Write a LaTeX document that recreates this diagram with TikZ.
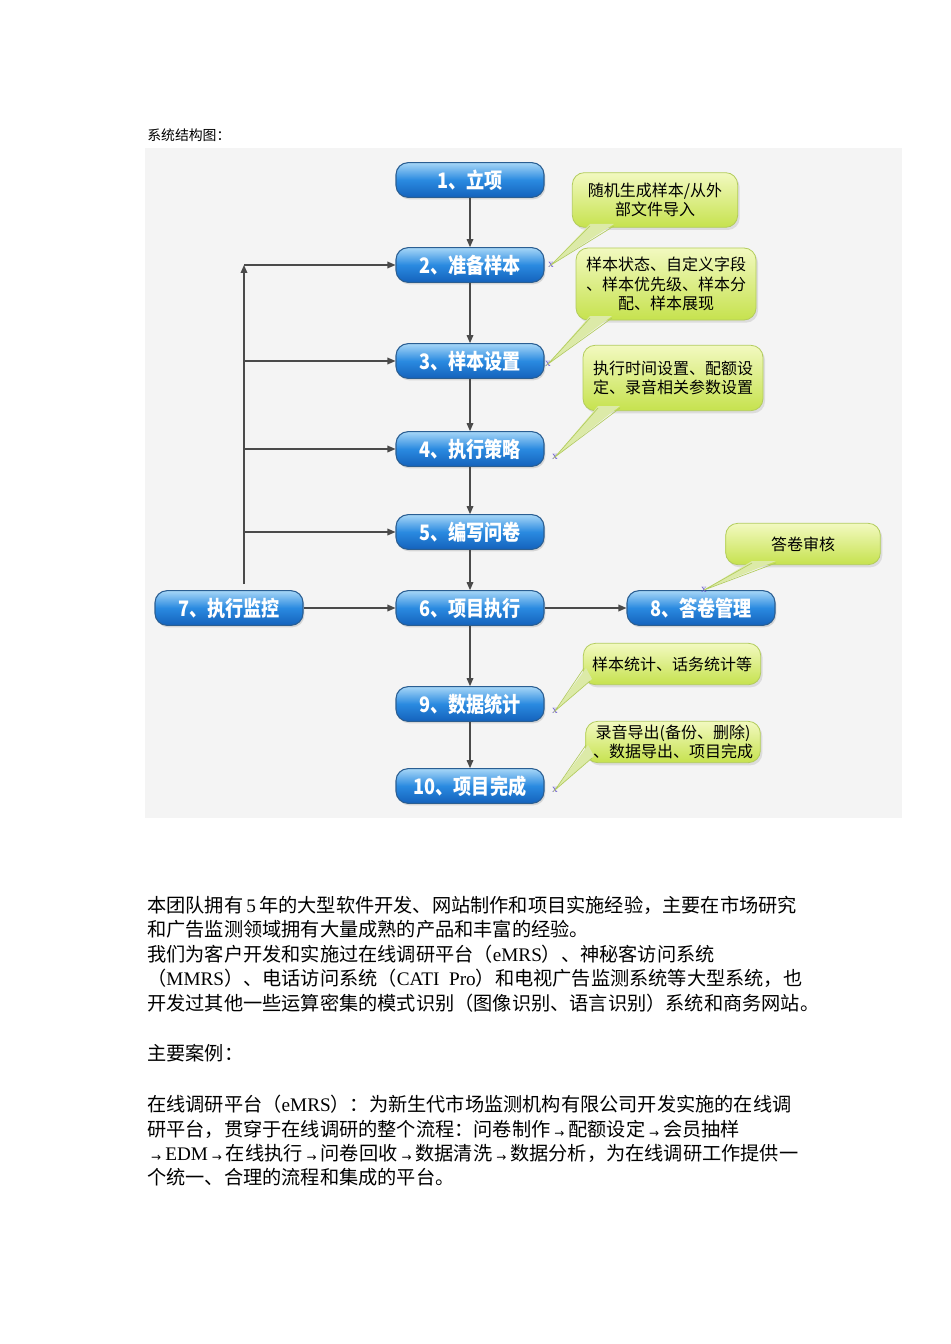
\documentclass[tikz,border=0pt]{standalone}
\usepackage{fontspec}
\setmainfont{Liberation Serif}
\newfontfamily\cjk{Noto Sans CJK SC}
\newfontfamily\latf{Liberation Serif}
\newfontfamily\arrf{DejaVu Sans}
\usetikzlibrary{arrows.meta,shadows}
\definecolor{bgpanel}{HTML}{F4F4F4}
\definecolor{pilltop}{HTML}{A6D6F7}
\definecolor{pillmid}{HTML}{2A8AE0}
\definecolor{pillbot}{HTML}{1462BC}
\definecolor{pillline}{HTML}{2A5E92}
\definecolor{caltop}{HTML}{F2F9C0}
\definecolor{calbot}{HTML}{C6E24E}
\definecolor{calline}{HTML}{B2CC5C}
\definecolor{tailc}{HTML}{DCEAA8}
\definecolor{arrowc}{HTML}{4A4A4A}
\definecolor{markc}{HTML}{6A5ACD}
\newcommand\pl[1]{\scalebox{0.85}[1]{#1}}
\newcommand\lt[1]{{\latf #1}}
\newcommand\ra{\makebox[13.5pt]{\raisebox{-1pt}{\arrf\fontsize{9}{9}\selectfont →}}}
\tikzset{
  pill/.style={rounded corners=9pt, draw=pillline, line width=0.8pt,
    top color=pilltop, bottom color=pillbot, middle color=pillmid,
    minimum width=111pt, minimum height=26pt, inner sep=0pt,
    text=white, font=\cjk\bfseries\fontsize{16}{16}\selectfont,
    drop shadow={opacity=0.25, shadow xshift=1pt, shadow yshift=-1.5pt}},
  callout/.style={rounded corners=9pt, draw=calline, line width=0.6pt,
    top color=caltop, bottom color=calbot, inner sep=0pt, align=center,
    font=\cjk\fontsize{12}{14.5}\selectfont,
    drop shadow={opacity=0.2, shadow xshift=1.5pt, shadow yshift=-2pt}},
  arr/.style={draw=arrowc, line width=0.9pt, -{Triangle[length=6pt,width=5pt]}},
  xmark/.style={text=markc, font=\fontsize{8.5}{8.5}\selectfont, inner sep=0pt},
  btext/.style={anchor=base west, inner sep=0pt, font=\cjk\fontsize{14.4}{14.4}\selectfont},
}
\begin{document}
\begin{tikzpicture}[x=0.75pt,y=-0.75pt]
\useasboundingbox (0,0) rectangle (950,1344);
\fill[white] (0,0) rectangle (950,1344);
\node[anchor=base west, inner sep=0pt, font=\cjk\fontsize{10.4}{11}\selectfont] (title) at (147,141) {系统结构图：};
\fill[bgpanel] (145,148) rectangle (902,818);

% pills
\node[pill] (n1) at (470,180) {\pl{1、立项}};
\node[pill] (n2) at (470,265) {\pl{2、准备样本}};
\node[pill] (n3) at (470,361) {\pl{3、样本设置}};
\node[pill] (n4) at (470,449) {\pl{4、执行策略}};
\node[pill] (n5) at (470,532) {\pl{5、编写问卷}};
\node[pill] (n6) at (470,608) {\pl{6、项目执行}};
\node[pill] (n7) at (229,608) {\pl{7、执行监控}};
\node[pill] (n8) at (701,608) {\pl{8、答卷管理}};
\node[pill] (n9) at (470,704) {\pl{9、数据统计}};
\node[pill] (n10) at (470,786) {\pl{10、项目完成}};

% main arrows
\draw[arr] (n1) -- (n2);
\draw[arr] (n2) -- (n3);
\draw[arr] (n3) -- (n4);
\draw[arr] (n4) -- (n5);
\draw[arr] (n5) -- (n6);
\draw[arr] (n6) -- (n9);
\draw[arr] (n9) -- (n10);
\draw[arr] (n7) -- (n6);
\draw[arr] (n6) -- (n8);

% feedback loop
\coordinate (lb) at (244,584);
\coordinate (lt) at (244,265);
\draw[arr] (lb) -- (lt);
\draw[arr] (lt) -- (n2.west);
\draw[arr] (lb |- n3) -- (n3.west);
\draw[arr] (lb |- n4) -- (n4.west);
\draw[arr] (lb |- n5) -- (n5.west);

% callouts
\node[callout, minimum width=124pt, minimum height=41pt] (cA) at (655,200) {随机生成样本/从外\\部文件导入};
\node[callout, minimum width=135pt, minimum height=54pt] (cB) at (666,284) {样本状态、自定义字段\\、样本优先级、样本分\\配、样本展现};
\node[callout, minimum width=135pt, minimum height=49pt] (cC) at (673,378) {执行时间设置、配额设\\定、录音相关参数设置};
\node[callout, minimum width=116pt, minimum height=31pt] (cD) at (803,544) {答卷审核};
\node[callout, minimum width=133pt, minimum height=31pt] (cE) at (672,664) {样本统计、话务统计等};
\node[callout, minimum width=131pt, minimum height=31pt] (cF) at (673,742) {录音导出(备份、删除)\\、数据导出、项目完成};

% markers
\node[xmark] (mA) at (551,265) {x};
\node[xmark] (mB) at (548,364) {x};
\node[xmark] (mC) at (555,457) {x};
\node[xmark] (mD) at (704,590) {x};
\node[xmark] (mE) at (555,711) {x};
\node[xmark] (mF) at (555,790) {x};

% tails
\fill[tailc] (590,224) -- (mA.center) -- (614,224) -- cycle;
\draw[calline, line width=0.5pt] (590,226) -- (mA.center) -- (614,226);
\fill[tailc] (590,316) -- (mB.center) -- (612,316) -- cycle;
\draw[calline, line width=0.5pt] (590,318) -- (mB.center) -- (612,318);
\fill[tailc] (598,406) -- (mC.center) -- (620,406) -- cycle;
\draw[calline, line width=0.5pt] (598,408) -- (mC.center) -- (620,408);
\fill[tailc] (752,561) -- (mD.center) -- (776,561) -- cycle;
\draw[calline, line width=0.5pt] (752,563) -- (mD.center) -- (776,563);
\fill[tailc] (586,668) -- (mE.center) -- (592,679) -- cycle;
\draw[calline, line width=0.5pt] (584,668) -- (mE.center) -- (590,681);
\fill[tailc] (588,745) -- (mF.center) -- (594,756) -- cycle;
\draw[calline, line width=0.5pt] (586,745) -- (mF.center) -- (592,758);

% body text
\node[btext] (t1) at (147,912) {本团队拥有\,\lt{5}\,年的大型软件开发、网站制作和项目实施经验，主要在市场研究};
\node[btext] (t2) at (147,936) {和广告监测领域拥有大量成熟的产品和丰富的经验。};
\node[btext] (t3) at (147,961) {我们为客户开发和实施过在线调研平台（\lt{eMRS}）、神秘客访问系统};
\node[btext] (t4) at (147,985) {（\lt{MMRS}）、电话访问系统（\lt{CATI\ \ Pro}）和电视广告监测系统等大型系统，也};
\node[btext] (t5) at (147,1010) {开发过其他一些运算密集的模式识别（图像识别、语言识别）系统和商务网站。};
\node[btext] (t6) at (147,1060) {主要案例：};
\node[btext] (t7) at (147,1111) {在线调研平台（\lt{eMRS}）：为新生代市场监测机构有限公司开发实施的在线调};
\node[btext] (t8) at (147,1136) {研平台，贯穿于在线调研的整个流程：问卷制作\ra 配额设定\ra 会员抽样};
\node[btext] (t9) at (147,1160) {\ra\lt{EDM}\ra 在线执行\ra 问卷回收\ra 数据清洗\ra 数据分析，为在线调研工作提供一};
\node[btext] (t10) at (147,1184) {个统一、合理的流程和集成的平台。};
\end{tikzpicture}
\end{document}
